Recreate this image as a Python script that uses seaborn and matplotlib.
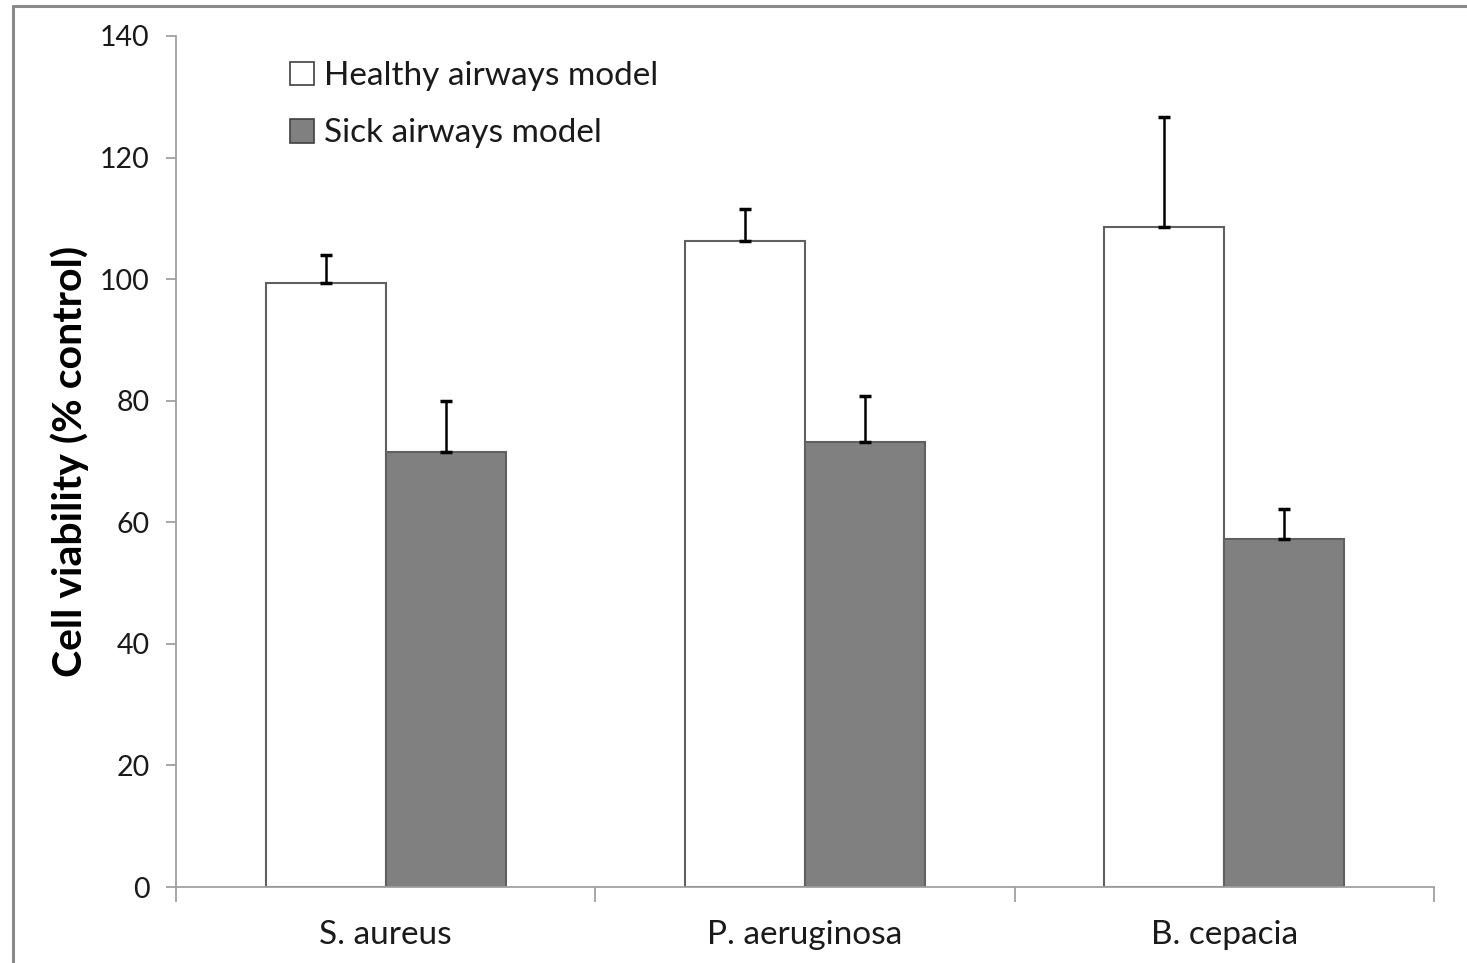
import matplotlib
matplotlib.use("Agg")
import matplotlib.pyplot as plt
import seaborn as sns
import pandas as pd
import numpy as np
from matplotlib.patches import Patch
from matplotlib.lines import Line2D

categories = ["S. aureus", "P. aeruginosa", "B. cepacia"]
series_names = ["Healthy airways model", "Sick airways model"]
healthy = [99.4, 106.3, 108.6]
healthy_err = [4.5, 5.3, 18.1]
sick = [71.6, 73.2, 57.2]
sick_err = [8.4, 7.6, 5.0]
y_ticks = [0, 20, 40, 60, 80, 100, 120, 140]

sns.set_theme(style="white")
plt.rcParams['font.family'] = ['Lato', 'DejaVu Sans']

df = pd.DataFrame({
    "category": categories * 2,
    "model": [series_names[0]] * 3 + [series_names[1]] * 3,
    "value": healthy + sick,
})

fig = plt.figure(figsize=(14.67, 9.63), dpi=100)
ax = fig.add_axes([176/1467, 1 - 887/963, (1434-176)/1467, (887-36)/963])

palette = {series_names[0]: "#ffffff", series_names[1]: "#808080"}
sns.barplot(data=df, x="category", y="value", hue="model", palette=palette,
            width=0.572, edgecolor="#606060", linewidth=1.5, ax=ax, legend=False,
            errorbar=None, saturation=1)

# error bars (upward only)
errs = {series_names[0]: healthy_err, series_names[1]: sick_err}
vals = {series_names[0]: healthy, series_names[1]: sick}
for cont, name in zip(ax.containers, series_names):
    xs = [p.get_x() + p.get_width()/2 for p in cont.patches]
    e = np.array(errs[name])
    ax.errorbar(xs, vals[name], yerr=[np.zeros_like(e), e], fmt="none",
                ecolor="black", elinewidth=1.8, capsize=4.5, capthick=2.5, zorder=3)

ax.set_ylim(0, 140)
ax.set_xlim(-0.5, 2.5)
ax.set_yticks(y_ticks)
ax.set_yticklabels([str(t) for t in y_ticks], fontsize=20.5, color="#1a1a1a")
ax.set_xticks([0, 1, 2])
ax.set_xticklabels(categories, fontsize=24, color="#1a1a1a")
ax.set_xlabel("")
ax.set_ylabel("Cell viability (% control)", fontsize=29.5, fontweight="bold", labelpad=8,
              color="black")

for s in ["top", "right"]:
    ax.spines[s].set_visible(False)
for s in ["left", "bottom"]:
    ax.spines[s].set_color("#a0a0a0")
    ax.spines[s].set_linewidth(1.3)

ax.tick_params(axis="y", which="major", left=True, length=7, width=1.3, color="#a0a0a0", pad=12)
ax.tick_params(axis="x", which="major", bottom=False, pad=18)
ax.set_xticks([-0.5, 0.5, 1.5, 2.5], minor=True)
ax.tick_params(axis="x", which="minor", bottom=True, length=11, width=1.3, color="#a0a0a0")

handles = [Patch(facecolor=palette[n], edgecolor="#404040", linewidth=1.2) for n in series_names]
leg = ax.legend(handles, series_names, loc="upper left", bbox_to_anchor=(0.072, 0.998),
                frameon=False, fontsize=24, handlelength=0.72, handleheight=0.72,
                handletextpad=0.3, labelspacing=0.82, borderaxespad=0.3)
for t in leg.get_texts():
    t.set_color("#1a1a1a")

# outer frame (top and left edges)
fx = 13/1467
fy = 1 - 6/963
fig.add_artist(Line2D([fx, 1.0], [fy, fy], transform=fig.transFigure, color="#8a8a8a", linewidth=2.2))
fig.add_artist(Line2D([fx, fx], [0.0, fy], transform=fig.transFigure, color="#8a8a8a", linewidth=2.2))

fig.savefig("out.png", dpi=100)
